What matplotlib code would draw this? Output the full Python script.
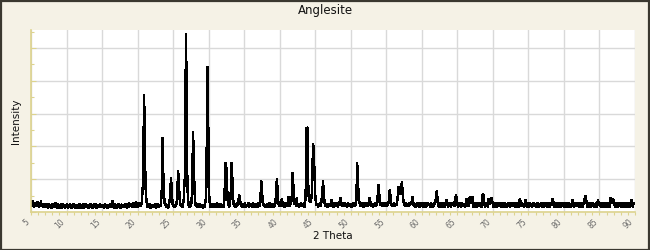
import numpy as np
import matplotlib
matplotlib.use("Agg")
import matplotlib.pyplot as plt
from matplotlib.patches import Rectangle
from matplotlib.ticker import MultipleLocator, NullFormatter

# ---------------- data ----------------
title = "Anglesite"
x_label = "2 Theta"
y_label = "Intensity"
two_theta_start = 5.0
two_theta_step = 0.1
x_ticks = list(range(5, 95, 5))

# intensity (counts) at 2-theta = 5.0, 5.1, ... 90.0 (one row per degree)
intensity = [
    300, 180, 340, 220, 150, 290, 200, 260, 170, 310,   # 5
    210, 150, 280, 190, 335, 170, 240, 130, 260, 190,   # 6
    140, 250, 180, 220, 120, 270, 160, 230, 110, 240,   # 7
    180, 130, 260, 150, 300, 170, 230, 120, 250, 160,   # 8
    220, 110, 240, 170, 130, 260, 150, 210, 100, 230,   # 9
    160, 240, 120, 200, 150, 270, 110, 220, 170, 130,   # 10
    250, 140, 210, 100, 230, 160, 190, 120, 260, 150,   # 11
    130, 220, 170, 250, 110, 200, 140, 240, 160, 210,   # 12
    190, 120, 230, 150, 270, 130, 210, 100, 240, 170,   # 13
    140, 260, 110, 220, 160, 200, 130, 250, 150, 190,   # 14
    230, 150, 200, 120, 260, 170, 140, 230, 110, 210,   # 15
    170, 240, 130, 200, 150, 335, 180, 120, 250, 160,   # 16
    120, 230, 170, 260, 140, 210, 100, 240, 150, 220,   # 17
    200, 130, 250, 160, 220, 120, 270, 150, 300, 170,   # 18
    240, 160, 210, 130, 280, 170, 230, 150, 315, 180,   # 19
    150, 260, 190, 300, 170, 240, 300, 700, 900, 3570,  # 20
    2710, 900, 450, 250, 140, 220, 170, 240, 120, 200,  # 21
    160, 230, 130, 210, 180, 250, 110, 220, 150, 240,   # 22
    130, 200, 170, 280, 680, 2260, 1280, 600, 280, 190, # 23
    240, 150, 210, 120, 230, 320, 600, 1040, 700, 300,  # 24
    180, 230, 140, 210, 170, 300, 620, 1260, 975, 450,  # 25
    250, 160, 220, 130, 240, 400, 925, 1100, 5430, 3780, # 26
    900, 350, 210, 150, 230, 170, 350, 770, 2450, 1740, # 27
    700, 300, 180, 240, 130, 220, 160, 250, 140, 210,   # 28
    170, 230, 120, 200, 150, 240, 400, 910, 4450, 4085, # 29
    910, 400, 220, 150, 260, 180, 230, 140, 250, 190,   # 30
    150, 270, 180, 230, 130, 260, 170, 240, 140, 220,   # 31
    190, 140, 350, 900, 1515, 1330, 700, 300, 200, 160, # 32
    250, 520, 1515, 1230, 500, 250, 180, 230, 150, 270, # 33
    170, 240, 350, 520, 420, 250, 160, 230, 140, 260,   # 34
    180, 290, 150, 230, 200, 170, 280, 140, 250, 190,   # 35
    230, 150, 270, 180, 240, 130, 260, 170, 220, 150,   # 36
    280, 160, 240, 450, 945, 700, 300, 190, 260, 150,   # 37
    220, 170, 260, 140, 240, 190, 280, 150, 230, 170,   # 38
    260, 140, 230, 180, 300, 580, 1025, 650, 300, 180,  # 39
    240, 160, 300, 400, 260, 170, 230, 150, 280, 190,   # 40
    230, 170, 470, 250, 180, 350, 240, 500, 1200, 880,  # 41
    400, 220, 280, 170, 425, 200, 260, 150, 240, 180,   # 42
    270, 160, 240, 190, 280, 150, 350, 900, 2580, 2550, # 43
    900, 400, 330, 300, 350, 500, 1200, 2095, 1790, 1190, # 44
    500, 300, 190, 260, 150, 240, 180, 280, 170, 400,   # 45
    600, 945, 550, 300, 210, 170, 260, 150, 240, 190,   # 46
    230, 160, 280, 380, 200, 270, 150, 240, 180, 290,   # 47
    170, 250, 150, 280, 200, 430, 400, 230, 160, 270,   # 48
    240, 170, 300, 190, 260, 150, 280, 200, 240, 170,   # 49
    260, 150, 230, 180, 290, 160, 240, 200, 400, 1515,  # 50
    1025, 500, 300, 220, 160, 270, 190, 240, 150, 280,  # 51
    200, 250, 160, 280, 180, 240, 450, 380, 220, 170,   # 52
    270, 150, 240, 200, 290, 170, 260, 190, 500, 825,   # 53
    550, 300, 200, 260, 160, 280, 180, 240, 190, 270,   # 54
    160, 240, 200, 280, 400, 690, 450, 250, 180, 260,   # 55
    200, 270, 170, 250, 190, 280, 450, 790, 600, 550,   # 56
    700, 700, 925, 550, 350, 220, 260, 180, 270, 200,   # 57
    240, 170, 280, 190, 260, 300, 230, 470, 260, 180,   # 58
    270, 140, 250, 160, 290, 190, 240, 130, 280, 170,   # 59
    230, 280, 150, 260, 200, 290, 140, 250, 210, 270,   # 60
    190, 260, 130, 280, 170, 250, 150, 290, 230, 300,   # 61
    450, 640, 420, 260, 150, 280, 210, 250, 140, 270,   # 62
    220, 290, 150, 260, 200, 380, 250, 140, 280, 210,   # 63
    260, 150, 280, 220, 250, 300, 160, 380, 518, 400,   # 64
    250, 150, 280, 210, 260, 140, 290, 220, 250, 160,   # 65
    270, 150, 260, 420, 230, 280, 170, 455, 320, 260,   # 66
    300, 470, 350, 140, 280, 190, 260, 150, 290, 230,   # 67
    160, 280, 230, 260, 150, 450, 550, 480, 260, 140,   # 68
    280, 200, 250, 150, 420, 270, 230, 300, 450, 330,   # 69
    250, 140, 290, 230, 270, 150, 260, 220, 280, 160,   # 70
    240, 290, 150, 260, 220, 280, 140, 270, 230, 250,   # 71
    150, 270, 190, 250, 130, 290, 200, 260, 160, 280,   # 72
    190, 260, 140, 280, 200, 270, 150, 250, 400, 300,   # 73
    160, 270, 190, 260, 140, 280, 380, 250, 150, 270,   # 74
    240, 150, 280, 220, 260, 130, 270, 230, 290, 160,   # 75
    260, 140, 290, 200, 270, 150, 250, 190, 280, 140,   # 76
    200, 270, 150, 290, 210, 260, 140, 280, 190, 250,   # 77
    150, 280, 200, 260, 420, 330, 270, 140, 290, 210,   # 78
    260, 150, 280, 230, 270, 140, 250, 220, 290, 160,   # 79
    210, 290, 150, 260, 200, 280, 140, 270, 190, 260,   # 80
    150, 270, 365, 250, 140, 290, 220, 260, 160, 280,   # 81
    200, 260, 140, 290, 210, 270, 150, 220, 280, 400,   # 82
    490, 420, 280, 150, 260, 200, 290, 140, 270, 210,   # 83
    250, 280, 150, 260, 200, 290, 140, 270, 365, 250,   # 84
    210, 270, 150, 290, 200, 260, 140, 280, 220, 260,   # 85
    150, 280, 210, 260, 140, 290, 450, 330, 270, 420,   # 86
    300, 250, 150, 220, 270, 140, 260, 240, 290, 160,   # 87
    260, 150, 280, 240, 270, 140, 290, 230, 260, 150,   # 88
    230, 280, 150, 270, 240, 390, 260, 140, 290, 250,   # 89
    260,                                                # 90
]

two_theta = two_theta_start + two_theta_step * np.arange(len(intensity))

# ---------------- figure ----------------
W, H = 650, 250
bg = "#F5F2E6"
spine_col = "#DDD38E"
grid_col = "#D9D9D9"

fig = plt.figure(figsize=(W / 100, H / 100), dpi=100, facecolor=bg)
ax = fig.add_axes([31 / W, 1 - 212 / H, 604 / W, 182 / H])
ax.set_facecolor("white")

ax.plot(two_theta, intensity, color="black", lw=1.05, antialiased=False,
        solid_joinstyle="miter")

ax.set_xlim(5, 90)
ax.set_ylim(0, 5550)

ax.xaxis.set_major_locator(MultipleLocator(5))
ax.xaxis.set_minor_locator(MultipleLocator(1))
ax.yaxis.set_major_locator(MultipleLocator(1000))
ax.yaxis.set_minor_locator(MultipleLocator(500))
ax.set_xticks(x_ticks)
ax.set_xticklabels([str(t) for t in x_ticks], rotation=45, ha="right", va="top",
                   fontsize=5.5, color="#6A6A6A")
ax.yaxis.set_major_formatter(NullFormatter())

ax.grid(True, which="major", color=grid_col, lw=1.0)
ax.set_axisbelow(True)

for s in ("top", "right"):
    ax.spines[s].set_visible(False)
for s in ("left", "bottom"):
    ax.spines[s].set_color(spine_col)
    ax.spines[s].set_linewidth(1.2)

ax.tick_params(axis="x", which="both", direction="out", color=spine_col,
               length=2.3, width=0.8, pad=1.5)
ax.tick_params(axis="y", which="major", direction="in", color=spine_col,
               length=3.6, width=0.8, left=True, labelleft=False)
ax.tick_params(axis="y", which="minor", direction="in", color=spine_col,
               length=2.2, width=0.8)

fig.text(0.5, 1 - 14 / H, title, ha="center", va="baseline", fontsize=8.5,
         family="DejaVu Sans", color="#111111")
fig.text(333 / W, 1 - 239 / H, x_label, ha="center", va="baseline", fontsize=7.5,
         family="DejaVu Sans", color="#111111")
fig.text(16 / W, 1 - 121 / H, y_label, ha="center", va="center", rotation=90,
         fontsize=7.5, family="DejaVu Sans", color="#111111")

# outer frame
fig.patches.append(Rectangle((0.5 / W, 0.5 / H), 1 - 1.5 / W, 1 - 1.5 / H,
                             transform=fig.transFigure, fill=False,
                             edgecolor="#3A3830", lw=1.6))

fig.savefig("out.png", dpi=100, facecolor=bg)
